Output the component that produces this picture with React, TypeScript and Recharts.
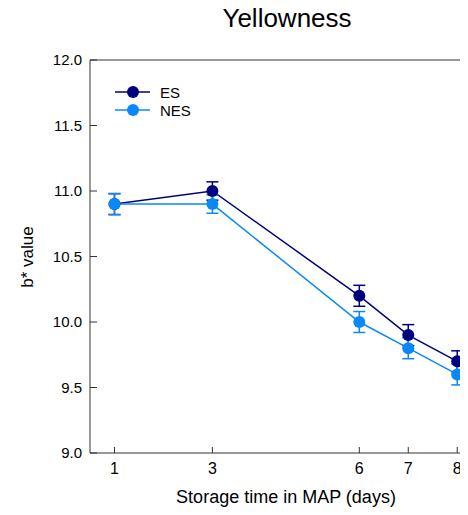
import React from "react";
import {
  LineChart,
  Line,
  XAxis,
  YAxis,
  ErrorBar,
  ReferenceLine,
} from "recharts";

const days = [1, 3, 6, 7, 8];
const esValues = [10.9, 11.0, 10.2, 9.9, 9.7];
const esErrors = [0.08, 0.07, 0.08, 0.08, 0.08];
const nesValues = [10.9, 10.9, 10.0, 9.8, 9.6];
const nesErrors = [0.08, 0.07, 0.08, 0.08, 0.08];
const yTicks = [9.0, 9.5, 10.0, 10.5, 11.0, 11.5, 12.0];

const ES_COLOR = "#000080";
const NES_COLOR = "#0a88f8";
const AXIS = "#333";
const FONT = "Arial, 'Liberation Sans', sans-serif";

const data = days.map((d, i) => ({
  day: d,
  es: esValues[i],
  esErr: esErrors[i],
  nes: nesValues[i],
  nesErr: nesErrors[i],
}));

const series = [
  { key: "es", err: "esErr", name: "ES", color: ES_COLOR },
  { key: "nes", err: "nesErr", name: "NES", color: NES_COLOR },
];

// legend drawn by hand, a recharts Legend on the left eats into the plot area
function LegendBox() {
  return (
    <div style={{ position: "absolute", left: 107, top: 75, fontSize: 15 }}>
      {series.map((s) => (
        <div key={s.key} style={{ display: "flex", alignItems: "center", height: 18 }}>
          <svg width={36} height={14}>
            <line x1={0} y1={7} x2={35} y2={7} stroke={s.color} strokeWidth={1.5} />
            <circle cx={18} cy={7} r={6} fill={s.color} />
          </svg>
          <span style={{ marginLeft: 9 }}>{s.name}</span>
        </div>
      ))}
    </div>
  );
}

function DayTick(props: any) {
  const { x, y, payload } = props;
  return (
    <text x={x} y={y + 12} textAnchor="middle" fontSize={16} fill="#000" fontFamily={FONT}>
      {payload.value}
    </text>
  );
}

export default function App() {
  return (
    <div style={{ position: "relative", width: 460, height: 499, fontFamily: FONT }}>
      <div
        style={{
          position: "absolute",
          left: 279,
          top: -5,
          transform: "translateX(-50%)",
          fontSize: 26,
          whiteSpace: "nowrap",
        }}
      >
        Yellowness
      </div>
      <div
        style={{
          position: "absolute",
          left: 278,
          top: 479,
          transform: "translateX(-50%)",
          fontSize: 18,
          whiteSpace: "nowrap",
        }}
      >
        Storage time in MAP (days)
      </div>
      <div
        style={{
          position: "absolute",
          left: 20,
          top: 249,
          transform: "translate(-50%, -50%) rotate(-90deg)",
          fontSize: 17,
          whiteSpace: "nowrap",
        }}
      >
        b* value
      </div>
      <LineChart
        width={460}
        height={499}
        data={data}
        margin={{ top: 52, right: 0, bottom: 24, left: 0 }}
        style={{ overflow: "visible" }}
      >
        <XAxis
          dataKey="day"
          type="number"
          domain={[0.5, 8.22]}
          ticks={days}
          allowDataOverflow
          interval={0}
          height={30}
          stroke={AXIS}
          tickSize={-6}
          tickMargin={15}
          tick={<DayTick />}
        />
        <YAxis
          type="number"
          domain={[9, 12]}
          ticks={yTicks}
          width={82}
          stroke={AXIS}
          tickSize={-7}
          tickMargin={15}
          tickFormatter={(v: number) => v.toFixed(1)}
          tick={{ fill: "#000", fontSize: 15 }}
        />
        <ReferenceLine y={12} stroke={AXIS} />
        {series.map((s) => (
          <Line
            key={s.key}
            dataKey={s.key}
            name={s.name}
            stroke={s.color}
            strokeWidth={1.5}
            dot={{ r: 6, fill: s.color, stroke: s.color, strokeWidth: 0 }}
            activeDot={false}
            isAnimationActive={false}
          >
            <ErrorBar dataKey={s.err} width={6} stroke={s.color} strokeWidth={1.5} />
          </Line>
        ))}
      </LineChart>
      <LegendBox />
    </div>
  );
}
